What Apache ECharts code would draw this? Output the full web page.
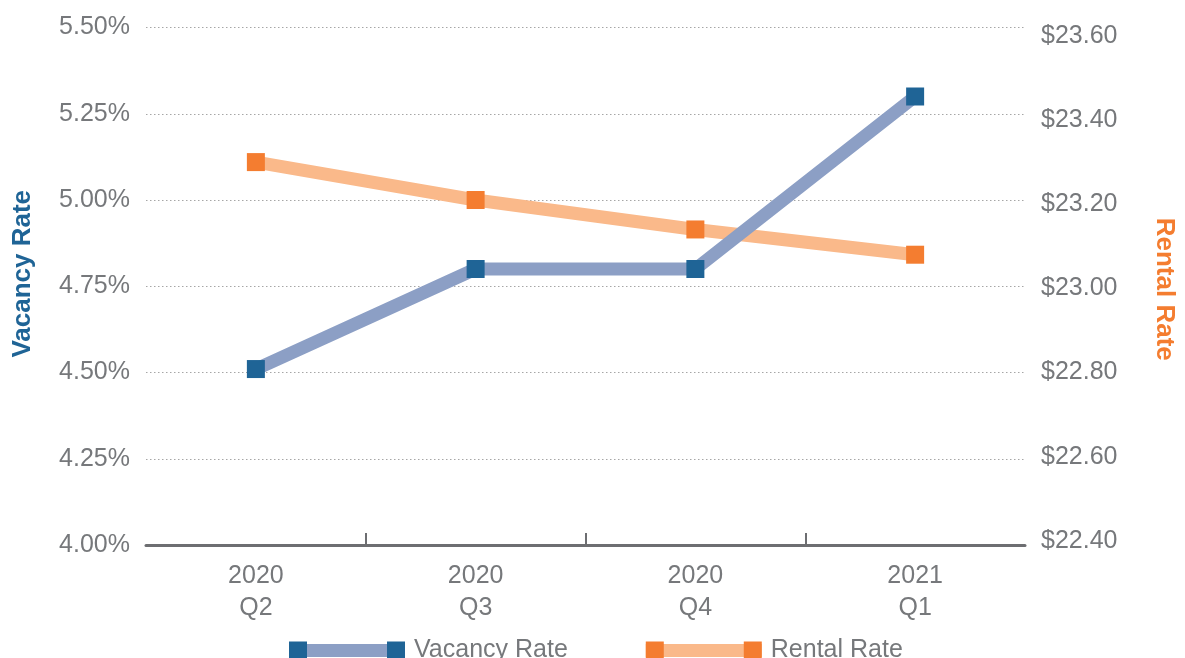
<!DOCTYPE html>
<html>
<head>
<meta charset="utf-8">
<script src="https://cdn.jsdelivr.net/npm/echarts@6/dist/echarts.min.js"></script>
<style>
  html, body { margin: 0; padding: 0; background: #ffffff; }
  #chart { width: 1185px; height: 658px; }
</style>
</head>
<body>
<div id="chart"></div>
<script>
// ---- data ----
const years = ['2020', '2020', '2020', '2021'];
const quarters = ['Q2', 'Q3', 'Q4', 'Q1'];
const vacancyRate = [4.51, 4.80, 4.80, 5.30];      // percent
const rentalRate = [23.30, 23.21, 23.14, 23.08];   // dollars
const vacancyTicks = [4.00, 4.25, 4.50, 4.75, 5.00, 5.25, 5.50];
const rentalTicks = [22.40, 22.60, 22.80, 23.00, 23.20, 23.40, 23.60];
const seriesNames = ['Vacancy Rate', 'Rental Rate'];

const categories = years.map((y, i) => y + '\n' + quarters[i]);
// category boundaries (n + 1 of them) used only for the divider ticks
const boundaries = categories.concat(['']).map((c, i) => 'b' + i);

const gray = '#76787b';
const axisGray = '#6d6e71';
const blueMarker = '#1f6496';
const blueLine = '#8c9fc5';
const orangeMarker = '#f47d30';
const orangeLine = '#fab98a';
const FONT = 'Liberation Sans, Arial, sans-serif';

const barIcon = 'path://M0,0L0.1,0L0.1,0.1Z M116,18L115.9,18L115.9,17.9Z M0,2.5H116V15.5H0Z';
const squaresIcon = 'path://M0,0H18V18H0Z M98,0H116V18H98Z';

const legendBase = {
  left: 289,
  top: 638,
  padding: 0,
  itemWidth: 116,
  itemHeight: 18,
  itemGap: 78,
  selectedMode: false,
  textStyle: { fontSize: 25, fontFamily: FONT, padding: [0, 0, 0, 4] }
};

const chart = echarts.init(document.getElementById('chart'), null, { renderer: 'canvas' });
chart.setOption({
  animation: false,
  backgroundColor: '#ffffff',
  grid: { left: 146, right: 157, top: 27.5, bottom: 113, containLabel: false },
  legend: [
    Object.assign({}, legendBase, {
      z: 3,
      textStyle: Object.assign({}, legendBase.textStyle, { color: gray }),
      data: [
        { name: seriesNames[0], icon: barIcon, itemStyle: { color: blueLine, borderWidth: 0 } },
        { name: seriesNames[1], icon: barIcon, itemStyle: { color: orangeLine, borderWidth: 0 } }
      ]
    }),
    Object.assign({}, legendBase, {
      z: 4,
      textStyle: Object.assign({}, legendBase.textStyle, { color: 'rgba(0,0,0,0)' }),
      data: [
        { name: seriesNames[0], icon: squaresIcon, itemStyle: { color: blueMarker, borderWidth: 0 } },
        { name: seriesNames[1], icon: squaresIcon, itemStyle: { color: orangeMarker, borderWidth: 0 } }
      ]
    })
  ],
  xAxis: [
    {
      type: 'category',
      data: categories,
      boundaryGap: true,
      axisLine: { show: true, lineStyle: { color: axisGray, width: 3 } },
      axisTick: { show: false },
      axisLabel: { color: gray, fontSize: 25, fontFamily: FONT, lineHeight: 32, margin: 15 },
      splitLine: { show: false }
    },
    {
      type: 'category',
      data: boundaries,
      boundaryGap: false,
      position: 'bottom',
      axisLine: { show: false },
      axisTick: {
        show: true, inside: true, length: 12,
        interval: (i) => i > 0 && i < boundaries.length - 1,
        lineStyle: { color: axisGray, width: 2 }
      },
      axisLabel: { show: false },
      splitLine: { show: false }
    }
  ],
  yAxis: [
    {
      type: 'value',
      position: 'left',
      min: vacancyTicks[0],
      max: vacancyTicks[vacancyTicks.length - 1],
      interval: 0.25,
      name: 'Vacancy Rate',
      nameLocation: 'middle',
      nameRotate: 90,
      nameGap: 110,
      nameTextStyle: { color: blueMarker, fontSize: 26, fontWeight: 'bold', fontFamily: FONT, padding: [0, 0, 0, 25] },
      axisLine: { show: false },
      axisTick: { show: false },
      axisLabel: {
        color: gray, fontSize: 25, fontFamily: FONT, margin: 16,
        padding: [0, 0, 5, 0],
        formatter: v => v.toFixed(2) + '%'
      },
      splitLine: { show: true, lineStyle: { color: '#a6a6a6', type: [1.5, 2.5], width: 1 } }
    },
    {
      type: 'value',
      position: 'right',
      min: 22.3905,
      max: 23.6197,
      name: 'Rental Rate',
      nameLocation: 'middle',
      nameRotate: -90,
      nameGap: 126,
      nameTextStyle: { color: orangeMarker, fontSize: 26, fontWeight: 'bold', fontFamily: FONT, padding: [0, 0, 0, 6] },
      axisLine: { show: false },
      axisTick: { show: false },
      axisLabel: {
        color: gray, fontSize: 25, fontFamily: FONT, margin: 16,
        customValues: rentalTicks,
        formatter: v => '$' + Number(v).toFixed(2)
      },
      splitLine: { show: false }
    }
  ],
  series: [
    {
      name: seriesNames[0],
      type: 'line',
      xAxisIndex: 0,
      yAxisIndex: 0,
      data: vacancyRate,
      symbol: 'rect',
      symbolSize: 18,
      lineStyle: { color: blueLine, width: 13 },
      itemStyle: { color: blueMarker, borderWidth: 0 },
      z: 3
    },
    {
      name: seriesNames[1],
      type: 'line',
      xAxisIndex: 0,
      yAxisIndex: 1,
      data: rentalRate,
      symbol: 'rect',
      symbolSize: 18,
      lineStyle: { color: orangeLine, width: 13 },
      itemStyle: { color: orangeMarker, borderWidth: 0 },
      z: 2
    }
  ]
});
</script>
</body>
</html>
